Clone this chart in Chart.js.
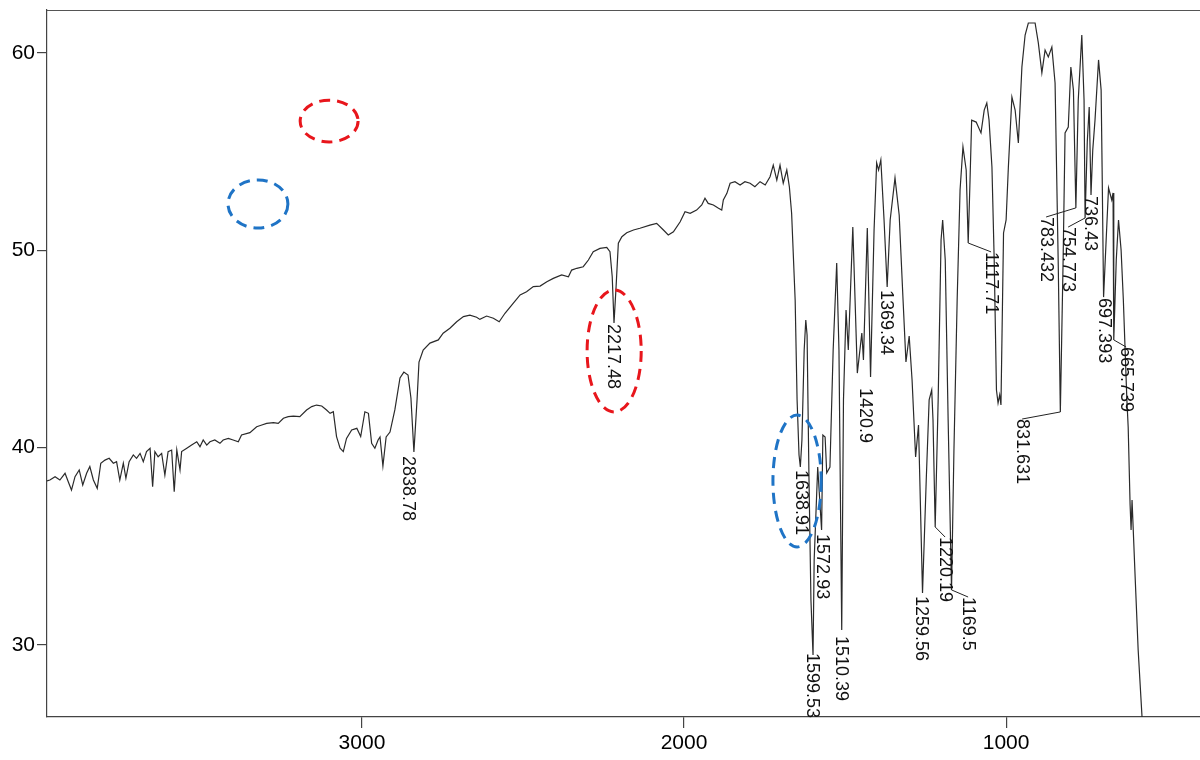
<!DOCTYPE html>
<html>
<head>
<meta charset="utf-8">
<title>IR spectrum</title>
<script src="https://cdn.jsdelivr.net/npm/chart.js@4.4.1/dist/chart.umd.min.js"></script>
<style>
  html, body { margin: 0; padding: 0; background: #fff; overflow: hidden; }
  #canvas { display: block; }
</style>
</head>
<body>
<canvas id="canvas" width="1200" height="760"></canvas>
<script>
// wavenumber (cm-1) and transmittance (%)
var wavenumbers = [
  3978, 3969, 3953, 3938, 3922, 3912, 3902, 3891, 3878, 3867, 3855, 3845, 3834, 3822, 3811, 3798,
  3785, 3772, 3762, 3752, 3741, 3733, 3723, 3710, 3700, 3689, 3679, 3669, 3658, 3650, 3643, 3633,
  3622, 3612, 3602, 3591, 3583, 3575, 3565, 3560, 3544, 3529, 3513, 3503, 3493, 3482, 3472, 3457,
  3441, 3431, 3415, 3400, 3384, 3374, 3348, 3327, 3311, 3296, 3275, 3260, 3244, 3229, 3213, 3193,
  3172, 3156, 3141, 3125, 3110, 3099, 3089, 3079, 3068, 3058, 3048, 3032, 3016, 3004, 2991, 2980,
  2970, 2960, 2950, 2944, 2935, 2925, 2913, 2898, 2882, 2870, 2857, 2848, 2838.78, 2829, 2823, 2810,
  2789, 2763, 2748, 2727, 2706, 2685, 2665, 2644, 2634, 2613, 2592, 2574, 2556, 2530, 2509, 2489,
  2468, 2447, 2426, 2406, 2380, 2359, 2349, 2333, 2313, 2297, 2282, 2261, 2240, 2230, 2223, 2217.48,
  2211, 2204, 2193, 2178, 2157, 2137, 2106, 2085, 2064, 2049, 2033, 2012, 1997, 1981, 1961, 1945,
  1935, 1925, 1909, 1893, 1883, 1878, 1867, 1857, 1842, 1826, 1811, 1795, 1780, 1764, 1748, 1733,
  1723, 1712, 1702, 1692, 1681, 1673, 1666, 1655, 1649, 1643, 1638.91, 1634, 1627, 1622, 1618, 1612,
  1606, 1599.53, 1596, 1585, 1572.93, 1569, 1562, 1557, 1547, 1537, 1526, 1519, 1510.39, 1505, 1497, 1490,
  1476, 1469, 1462, 1448, 1443, 1431, 1420.9, 1410, 1402, 1396, 1389, 1379, 1369.34, 1360, 1345, 1332,
  1320, 1311, 1301, 1292, 1281, 1272, 1259.56, 1248, 1239, 1231, 1227, 1220.19, 1211, 1202, 1197, 1189,
  1180, 1169.5, 1162, 1152, 1143, 1134, 1124, 1117.71, 1112, 1107, 1093, 1078, 1068, 1060, 1053, 1044,
  1037, 1030, 1025, 1020, 1016, 1008, 1000, 993, 982, 972, 962, 951, 941, 931, 910, 900,
  889, 879, 869, 858, 848, 838, 831.631, 823, 817, 807, 799, 791, 783.432, 776, 765, 758,
  754.773, 748, 742, 736.43, 731, 724, 713, 705, 702, 697.393, 688, 682, 672, 668, 665.739, 658,
  651, 643, 636, 625, 621, 615, 612, 609, 599, 590, 578, 565
];
var transmittance = [
  38.31, 38.36, 38.53, 38.36, 38.70, 38.27, 37.85, 38.53, 38.87, 38.11, 38.70, 39.04, 38.36, 37.94, 39.21, 39.37,
  39.46, 39.21, 39.29, 38.36, 39.21, 38.45, 39.29, 39.63, 39.46, 39.71, 39.29, 39.80, 39.97, 38.02, 39.80, 39.54,
  39.71, 38.61, 39.80, 39.88, 37.77, 39.88, 38.87, 39.80, 39.97, 40.13, 40.30, 40.05, 40.39, 40.13, 40.30, 40.39,
  40.22, 40.39, 40.47, 40.39, 40.30, 40.64, 40.76, 41.06, 41.15, 41.23, 41.27, 41.23, 41.49, 41.57, 41.60, 41.57,
  41.91, 42.08, 42.16, 42.11, 41.91, 41.74, 41.82, 40.56, 39.97, 39.80, 40.47, 40.90, 40.98, 40.56, 41.82, 41.74,
  40.22, 39.97, 40.39, 40.54, 39.07, 40.54, 40.79, 41.91, 43.53, 43.83, 43.68, 42.52, 39.78, 42.42, 44.34, 44.95,
  45.30, 45.46, 45.80, 46.05, 46.38, 46.64, 46.72, 46.61, 46.50, 46.67, 46.56, 46.38, 46.81, 47.32, 47.74, 47.90,
  48.16, 48.19, 48.41, 48.58, 48.75, 48.66, 49.00, 49.09, 49.17, 49.51, 49.93, 50.10, 50.15, 49.93, 48.66, 46.32,
  48.16, 50.36, 50.69, 50.89, 51.03, 51.12, 51.28, 51.37, 51.03, 50.78, 50.94, 51.45, 51.96, 51.88, 52.04, 52.30,
  52.64, 52.38, 52.30, 52.13, 52.04, 52.55, 52.89, 53.40, 53.48, 53.31, 53.48, 53.40, 53.22, 53.48, 53.31, 53.73,
  54.32, 53.56, 54.32, 53.40, 54.07, 53.22, 51.88, 47.48, 42.42, 39.63, 39.02, 40.39, 44.95, 46.47, 45.71, 38.36,
  32.28, 29.49, 34.31, 39.02, 35.83, 40.64, 40.54, 38.72, 39.02, 44.95, 49.36, 44.95, 30.76, 42.42, 46.98, 44.95,
  51.18, 47.48, 43.78, 45.81, 44.44, 51.13, 43.58, 51.03, 54.43, 54.07, 54.58, 51.54, 48.14, 51.54, 53.67, 51.79,
  47.48, 44.34, 45.66, 43.43, 39.53, 41.15, 32.63, 38.36, 42.42, 42.92, 41.40, 35.98, 42.42, 50.52, 51.54, 49.51,
  41.40, 32.79, 39.88, 47.48, 53.06, 55.24, 54.07, 50.37, 53.56, 56.60, 56.50, 55.95, 57.11, 57.47, 56.60, 54.22,
  49.51, 42.92, 42.26, 42.67, 42.16, 50.88, 51.54, 54.22, 57.77, 57.11, 55.44, 59.29, 60.91, 61.52, 61.52, 60.51,
  58.99, 60.15, 59.80, 60.30, 58.48, 49.16, 41.81, 49.51, 55.95, 56.25, 59.29, 58.12, 52.15, 57.62, 60.91, 57.62,
  51.64, 55.50, 57.26, 52.80, 55.08, 56.60, 59.65, 58.12, 54.22, 47.63, 51.03, 53.16, 52.55, 52.91, 45.46, 49.51,
  51.54, 50.02, 47.48, 42.42, 41.05, 37.09, 35.83, 37.35, 33.29, 29.75, 26.35, 23.16
];

var xTicks = [1000, 2000, 3000];
var yTicks = [30, 40, 50, 60];

// peak labels: text, label anchor (wavenumber, %T at top of text), dip %T for leader lines
var peakLabels = ['2838.78', '2217.48', '1638.91', '1599.53', '1572.93', '1510.39', '1420.9', '1369.34',
  '1259.56', '1220.19', '1169.5', '1117.71', '831.631', '783.432', '754.773', '736.43', '697.393', '665.739'];
var labelWn = [2857, 2220, 1637, 1602.5, 1571.4, 1512.4, 1437.9, 1372.7,
  1263.8, 1189.4, 1118.0, 1046.6, 950.3, 875.8, 807.4, 739.1, 695.6, 627.3];
var labelTopT = [39.58, 46.27, 38.87, 29.59, 35.62, 30.46, 43.02, 47.99,
  32.48, 35.47, 32.43, 49.92, 41.45, 51.69, 51.18, 52.75, 47.58, 45.10];
var leaderDipT = [null, null, null, null, null, null, null, null,
  null, 35.98, 32.79, 50.37, 41.81, 52.15, 51.64, null, null, 45.46];

// hand-drawn dashed ellipses: centre wavenumber, centre %T, half-width (cm-1), half-height (%T)
var ellipseColors = ['#e8161c', '#1f74c6', '#e8161c', '#1f74c6'];
var ellipseWn = [3102, 3323, 2217, 1649];
var ellipseT = [56.55, 52.35, 44.90, 38.31];
var ellipseHalfW = [90, 93, 84, 75];
var ellipseHalfH = [1.06, 1.22, 3.09, 3.34];

var axisFont = { family: '"Liberation Sans", Arial, sans-serif', size: 21 };

var framePlugin = {
  id: 'frame',
  beforeDatasetsDraw: function (chart) {
    var ctx = chart.ctx, a = chart.chartArea;
    ctx.save();
    ctx.strokeStyle = '#555';
    ctx.lineWidth = 1.2;
    ctx.beginPath();
    ctx.moveTo(a.left, a.top + 0.5);
    ctx.lineTo(a.right, a.top + 0.5);
    ctx.stroke();
    ctx.restore();
  }
};

var annotationPlugin = {
  id: 'peakAnnotations',
  afterDatasetsDraw: function (chart) {
    var ctx = chart.ctx;
    var xs = chart.scales.x, ys = chart.scales.y;
    ctx.save();

    // leaders + rotated labels
    ctx.strokeStyle = '#222';
    ctx.lineWidth = 1;
    ctx.fillStyle = '#111';
    ctx.font = '18px "Liberation Sans", Arial, sans-serif';
    ctx.textAlign = 'left';
    ctx.textBaseline = 'middle';
    peakLabels.forEach(function (txt, i) {
      var lx = xs.getPixelForValue(labelWn[i]);
      var ly = ys.getPixelForValue(labelTopT[i]);
      if (leaderDipT[i] !== null) {
        ctx.beginPath();
        ctx.moveTo(xs.getPixelForValue(parseFloat(txt)), ys.getPixelForValue(leaderDipT[i]));
        ctx.lineTo(lx, ly);
        ctx.stroke();
      }
      ctx.save();
      ctx.translate(lx, ly);
      ctx.rotate(Math.PI / 2);
      ctx.fillText(txt, 0, 0);
      ctx.restore();
    });

    // dashed ellipses
    ctx.lineWidth = 3;
    ctx.setLineDash([11, 7]);
    ellipseWn.forEach(function (w, i) {
      var cx = xs.getPixelForValue(w);
      var cy = ys.getPixelForValue(ellipseT[i]);
      var rx = Math.abs(xs.getPixelForValue(w + ellipseHalfW[i]) - cx);
      var ry = Math.abs(ys.getPixelForValue(ellipseT[i] + ellipseHalfH[i]) - cy);
      ctx.strokeStyle = ellipseColors[i];
      ctx.beginPath();
      ctx.ellipse(cx, cy, rx, ry, 0, 0, Math.PI * 2);
      ctx.stroke();
    });
    ctx.restore();
  }
};

var chart = new Chart(document.getElementById('canvas').getContext('2d'), {
  type: 'line',
  data: {
    datasets: [{
      label: 'Spectrum',
      data: wavenumbers.map(function (w, i) { return { x: w, y: transmittance[i] }; }),
      borderColor: '#2a2a2a',
      borderWidth: 1.2,
      pointRadius: 0,
      tension: 0,
      fill: false
    }]
  },
  options: {
    responsive: false,
    animation: false,
    devicePixelRatio: 1,
    layout: { padding: { top: 10, right: 0, bottom: 0, left: 0 } },
    plugins: {
      legend: { display: false },
      tooltip: { enabled: false }
    },
    scales: {
      x: {
        type: 'linear',
        reverse: true,
        min: 398,
        max: 3978,
        afterBuildTicks: function (scale) {
          scale.ticks = xTicks.map(function (v) { return { value: v }; });
        },
        afterFit: function (scale) {
          scale.height = 43;
          scale.paddingLeft = 0;
          scale.paddingRight = 0;
        },
        grid: { drawOnChartArea: false, drawTicks: true, tickLength: 11, color: '#444', lineWidth: 1.2 },
        border: { display: true, color: '#444', width: 1.2 },
        ticks: {
          font: axisFont, color: '#000', padding: 3, maxRotation: 0,
          callback: function (v) { return String(v); }
        }
      },
      y: {
        min: 26.35,
        max: 62.18,
        afterBuildTicks: function (scale) {
          scale.ticks = yTicks.map(function (v) { return { value: v }; });
        },
        afterFit: function (scale) {
          scale.width = 47;
          scale.paddingTop = 0;
          scale.paddingBottom = 0;
        },
        grid: { drawOnChartArea: false, drawTicks: true, tickLength: 10, color: '#444', lineWidth: 1.2 },
        border: { display: true, color: '#444', width: 1.2 },
        ticks: { font: axisFont, color: '#000', padding: 2 }
      }
    }
  },
  plugins: [framePlugin, annotationPlugin]
});
</script>
</body>
</html>
